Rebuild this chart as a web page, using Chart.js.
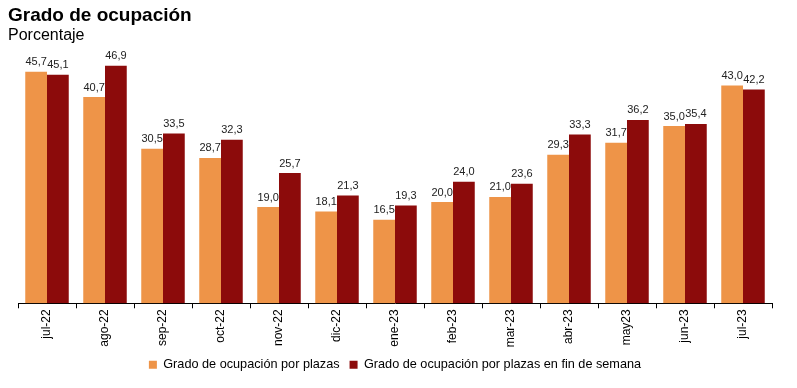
<!DOCTYPE html>
<html lang="es">
<head>
    <meta charset="UTF-8">
    <title>Grado de ocupación</title>
    <style>
        body{margin:0;padding:0;background:#fff;font-family:'Liberation Sans',Arial,sans-serif}
        .wrap{position:relative;width:797px;height:388px}
        .title{position:absolute;left:8px;top:4px;font-size:19px;font-weight:bold;color:#000}
        .subtitle{position:absolute;left:8px;top:26px;font-size:16px;color:#000}
        canvas{position:absolute;left:0;top:0}
    </style>
</head>
<body>
    <div class="wrap">
        <canvas id="chart" width="797" height="388"></canvas>
        <div class="title">Grado de ocupación</div>
        <div class="subtitle">Porcentaje</div>
    </div>
    <script src="https://cdn.jsdelivr.net/npm/chart.js"></script>
    <script>
        const months = ['jul-22','ago-22','sep-22','oct-22','nov-22','dic-22','ene-23','feb-23','mar-23','abr-23','may23','jun-23','jul-23'];
        const plazas = [45.7,40.7,30.5,28.7,19.0,18.1,16.5,20.0,21.0,29.3,31.7,35.0,43.0];
        const finSemana = [45.1,46.9,33.5,32.3,25.7,21.3,19.3,24.0,23.6,33.3,36.2,35.4,42.2];

        // value labels above the bars
        const valueLabels = {
            id: 'valueLabels',
            afterDatasetsDraw(chart) {
                const ctx = chart.ctx;
                ctx.save();
                ctx.font = '11px "Liberation Sans", Arial, sans-serif';
                ctx.fillStyle = '#222';
                ctx.textAlign = 'center';
                ctx.textBaseline = 'bottom';
                chart.data.datasets.forEach((ds, i) => {
                    chart.getDatasetMeta(i).data.forEach((bar, j) => {
                        ctx.fillText(ds.data[j].toFixed(1).replace('.', ','), bar.x, bar.y - 4);
                    });
                });
                ctx.restore();
            }
        };

        new Chart(document.getElementById('chart'), {
            type: 'bar',
            data: {
                labels: months,
                datasets: [
                    {label: 'Grado de ocupación por plazas', data: plazas, backgroundColor: '#EE9448'},
                    {label: 'Grado de ocupación por plazas en fin de semana', data: finSemana, backgroundColor: '#8C0B0B'}
                ]
            },
            options: {
                responsive: false,
                animation: false,
                layout: {padding: {top: 50, left: 18, right: 25, bottom: 7}},
                datasets: {bar: {categoryPercentage: 0.75, barPercentage: 1}},
                plugins: {
                    legend: {
                        position: 'bottom',
                        labels: {
                            boxWidth: 8, boxHeight: 8, padding: 10, color: '#000',
                            font: {family: '"Liberation Sans", Arial, sans-serif', size: 12.7}
                        }
                    },
                    tooltip: {enabled: false}
                },
                scales: {
                    y: {display: false, min: 0, max: 50},
                    x: {
                        border: {color: '#000', width: 1},
                        grid: {offset: true, drawOnChartArea: false, drawTicks: true, tickLength: 5, color: '#000'},
                        ticks: {
                            minRotation: 90, maxRotation: 90, color: '#000', padding: 1,
                            font: {family: '"Liberation Sans", Arial, sans-serif', size: 12}
                        }
                    }
                }
            },
            plugins: [valueLabels]
        });
    </script>
</body>
</html>
